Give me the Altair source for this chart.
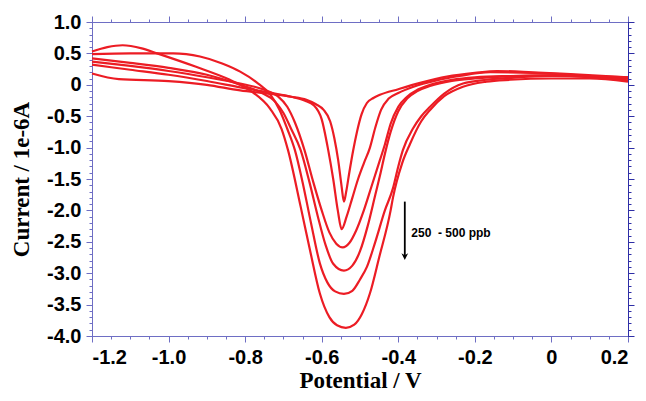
import altair as alt
import pandas as pd

# ---- data (potential in V, current in 1e-6 A) ----
c1_x = [-1.2, -1.13, -1.0, -0.9, -0.813, -0.74, -0.68, -0.64, -0.615, -0.595, -0.578, -0.567, -0.557, -0.548, -0.542,
        -0.536, -0.528, -0.518, -0.508, -0.496, -0.482, -0.465, -0.448, -0.40, -0.343, -0.273, -0.2, -0.142, -0.05, 0.05, 0.2]
c1_y = [0.18, 0.09, 0.06, 0.0, -0.09, -0.14, -0.19, -0.24, -0.31, -0.40, -0.58, -0.85, -1.20, -1.62, -1.86,
        -1.70, -1.40, -1.05, -0.75, -0.47, -0.29, -0.21, -0.16, -0.07, 0.03, 0.13, 0.19, 0.22, 0.20, 0.17, 0.12]

c2_x = [-1.2, -1.1, -1.0, -0.9, -0.813, -0.74, -0.68, -0.645, -0.62, -0.60, -0.583, -0.57, -0.558, -0.548,
        -0.535, -0.52, -0.505, -0.49, -0.474, -0.46, -0.445, -0.425, -0.40, -0.36, -0.30, -0.24, -0.16, -0.05, 0.05, 0.2]
c2_y = [0.32, 0.24, 0.16, 0.06, -0.04, -0.12, -0.19, -0.25, -0.33, -0.55, -1.04, -1.50, -2.00, -2.30,
        -2.10, -1.80, -1.50, -1.25, -1.00, -0.68, -0.40, -0.22, -0.13, -0.03, 0.07, 0.14, 0.20, 0.19, 0.16, 0.10]

c3_x = [-1.2, -1.1, -1.0, -0.9, -0.813, -0.75, -0.715, -0.69, -0.67, -0.645, -0.622, -0.60, -0.58, -0.562, -0.545,
        -0.528, -0.51, -0.49, -0.47, -0.448, -0.435, -0.42, -0.40, -0.377, -0.35, -0.317, -0.26, -0.2, -0.108, 0.0, 0.1, 0.2]
c3_y = [0.37, 0.30, 0.22, 0.12, 0.02, -0.08, -0.18, -0.35, -0.60, -1.04, -1.55, -2.00, -2.35, -2.53, -2.59,
        -2.52, -2.32, -2.00, -1.62, -1.20, -0.95, -0.62, -0.35, -0.19, -0.08, 0.0, 0.08, 0.12, 0.14, 0.15, 0.13, 0.10]

c4_x = [-1.2, -1.1, -1.0, -0.9, -0.813, -0.76, -0.72, -0.70, -0.68, -0.655, -0.632, -0.61, -0.59, -0.57, -0.542,
        -0.52, -0.50, -0.48, -0.46, -0.448, -0.435, -0.42, -0.40, -0.377, -0.35, -0.317, -0.26, -0.2, -0.1, 0.0, 0.1, 0.2]
c4_y = [0.42, 0.35, 0.27, 0.16, 0.0, -0.12, -0.28, -0.45, -0.70, -1.04, -1.55, -2.10, -2.55, -2.85, -2.96,
        -2.88, -2.65, -2.25, -1.75, -1.45, -1.10, -0.75, -0.42, -0.22, -0.10, -0.02, 0.06, 0.10, 0.14, 0.15, 0.14, 0.12]

c5_x = [-1.2, -1.1, -0.988, -0.918, -0.86, -0.813, -0.77, -0.735, -0.71, -0.69, -0.67, -0.65, -0.628, -0.605, -0.585,
        -0.565, -0.542, -0.52, -0.50, -0.482, -0.46, -0.435, -0.414, -0.40, -0.388, -0.362, -0.34, -0.317, -0.28, -0.231,
        -0.17, -0.108, 0.0, 0.1, 0.2]
c5_y = [0.49, 0.50, 0.50, 0.45, 0.34, 0.21, 0.04, -0.15, -0.40, -0.70, -1.04, -1.55, -2.20, -2.84, -3.15,
        -3.29, -3.33, -3.28, -3.10, -2.90, -2.50, -2.00, -1.65, -1.30, -1.04, -0.70, -0.50, -0.35, -0.14, 0.02,
        0.08, 0.11, 0.14, 0.12, 0.07]

c6_x = [-1.2, -1.16, -1.12, -1.07, -1.03, -0.93, -0.84, -0.813, -0.78, -0.735, -0.705, -0.688, -0.655, -0.63, -0.605,
        -0.58, -0.56, -0.537, -0.515, -0.495, -0.474, -0.45, -0.42, -0.414, -0.39, -0.37, -0.34, -0.317, -0.28, -0.231,
        -0.17, -0.108, 0.0, 0.1, 0.2]
c6_y = [0.53, 0.60, 0.63, 0.58, 0.50, 0.29, 0.08, 0.0, -0.12, -0.38, -0.70, -1.04, -1.94, -2.65, -3.32,
        -3.70, -3.83, -3.87, -3.82, -3.65, -3.32, -2.75, -2.00, -1.80, -1.25, -0.95, -0.58, -0.40, -0.18, -0.03,
        0.05, 0.08, 0.10, 0.10, 0.05]

curve_names = ["c1", "c2", "c3", "c4", "c5", "c6"]
curve_xs = [c1_x, c2_x, c3_x, c4_x, c5_x, c6_x]
curve_ys = [c1_y, c2_y, c3_y, c4_y, c5_y, c6_y]

x_major = [-1.2, -1.0, -0.8, -0.6, -0.4, -0.2, 0.0, 0.2]
x_minor = [-1.2, -1.15, -1.1, -1.05, -1.0, -0.95, -0.9, -0.85, -0.8, -0.75, -0.7, -0.65, -0.6, -0.55, -0.5,
           -0.45, -0.4, -0.35, -0.3, -0.25, -0.2, -0.15, -0.1, -0.05, 0.0, 0.05, 0.1, 0.15, 0.2]
y_major = [-4.0, -3.5, -3.0, -2.5, -2.0, -1.5, -1.0, -0.5, 0.0, 0.5, 1.0]
y_minor = [-4.0, -3.9, -3.8, -3.7, -3.6, -3.5, -3.4, -3.3, -3.2, -3.1, -3.0, -2.9, -2.8, -2.7, -2.6, -2.5,
           -2.4, -2.3, -2.2, -2.1, -2.0, -1.9, -1.8, -1.7, -1.6, -1.5, -1.4, -1.3, -1.2, -1.1, -1.0, -0.9,
           -0.8, -0.7, -0.6, -0.5, -0.4, -0.3, -0.2, -0.1, 0.0, 0.1, 0.2, 0.3, 0.4, 0.5, 0.6, 0.7, 0.8, 0.9, 1.0]

arrow_x = [-0.383]
arrow_top = [-1.86]
arrow_head = [-2.735]
label_x = [-0.366]
label_y = [-2.355]
label_text = ["250\u00a0 - 500 ppb"]

rows = []
for name, xs_, ys_ in zip(curve_names, curve_xs, curve_ys):
    for xv, yv in zip(xs_, ys_):
        rows.append({"curve": name, "E": xv, "I": yv})
df = pd.DataFrame(rows)

xs = alt.Scale(domain=[-1.2, 0.2], nice=False, zero=False)
ys = alt.Scale(domain=[-4.0, 1.0], nice=False, zero=False)

LIGHT = "#6e6ec4"
DARK = "#2e2ea6"
LBL = "datum.value == 0 ? '0' : (datum.value < 0 ? '-' + format(-datum.value, '.1f') : format(datum.value, '.1f'))"

base = alt.Chart(df)

lines = base.mark_line(color="#ec1c24", strokeWidth=2.2, interpolate="monotone").encode(
    x=alt.X("E:Q", scale=xs, title="Potential / V",
            axis=alt.Axis(orient="bottom", values=x_major, labelExpr=LBL, tickSize=6, tickColor=LIGHT,
                          domainColor=LIGHT, grid=False, labelFont="Liberation Sans", labelFontWeight="bold",
                          labelFontSize=20, labelColor="black", labelPadding=5,
                          titleFont="Liberation Serif", titleFontWeight="bold", titleFontSize=23,
                          titleColor="black", titleBaseline="alphabetic", titleY=51)),
    y=alt.Y("I:Q", scale=ys, title="Current / 1e-6A",
            axis=alt.Axis(orient="left", values=y_major, labelExpr=LBL, tickSize=6, tickColor=LIGHT,
                          domainColor=LIGHT, grid=False, labelFont="Liberation Sans", labelFontWeight="bold",
                          labelFontSize=20, labelColor="black", labelPadding=5,
                          titleFont="Liberation Serif", titleFontWeight="bold", titleFontSize=23,
                          titleColor="black", titleBaseline="alphabetic", titleX=-64)),
    detail="curve:N",
)

def ghost(xorient, xvals, xsize, xcolor, yorient, yvals, ysize, ycolor):
    return base.mark_line(opacity=0).encode(
        x=alt.X("E:Q", scale=xs, title=None,
                axis=alt.Axis(orient=xorient, values=xvals, labels=False, tickSize=xsize, tickColor=xcolor,
                              domainColor=xcolor, grid=False)),
        y=alt.Y("I:Q", scale=ys, title=None,
                axis=alt.Axis(orient=yorient, values=yvals, labels=False, tickSize=ysize, tickColor=ycolor,
                              domainColor=ycolor, grid=False)),
        detail="curve:N",
    )

minor_bl = ghost("bottom", x_minor, 3, LIGHT, "left", y_minor, 3, LIGHT)
major_tr = ghost("top", x_major, 6, LIGHT, "right", y_major, 6, DARK)
minor_tr = ghost("top", x_minor, 3, LIGHT, "right", y_minor, 3, DARK)

arrow_df = pd.DataFrame({"x": arrow_x, "y": arrow_top, "y2": arrow_head})
arrow = alt.Chart(arrow_df).mark_rule(color="black", strokeWidth=1.8).encode(
    x=alt.X("x:Q", scale=xs, axis=None), y=alt.Y("y:Q", scale=ys, axis=None), y2="y2:Q")
head = alt.Chart(arrow_df).mark_point(shape="M-1,-1L0,1L1,-1L0,-0.4Z", filled=True, color="black",
                                      size=45, opacity=1).encode(
    x=alt.X("x:Q", scale=xs, axis=None), y=alt.Y("y2:Q", scale=ys, axis=None))

label_df = pd.DataFrame({"x": label_x, "y": label_y, "t": label_text})
label = alt.Chart(label_df).mark_text(align="left", baseline="middle", font="Liberation Sans",
                                      fontWeight="bold", fontSize=12, color="black").encode(
    x=alt.X("x:Q", scale=xs, axis=None), y=alt.Y("y:Q", scale=ys, axis=None), text="t:N")

chart = alt.layer(minor_bl, major_tr, minor_tr, lines, arrow, head, label).resolve_axis(
    x="independent", y="independent"
).properties(
    width=536, height=314,
    autosize=alt.AutoSizeParams(type="none"),
    padding={"left": 84, "top": 14, "right": 10, "bottom": 57},
    background="white",
).configure_view(stroke="transparent")

chart.save("out.html", embed_options={"renderer": "svg", "actions": False})
